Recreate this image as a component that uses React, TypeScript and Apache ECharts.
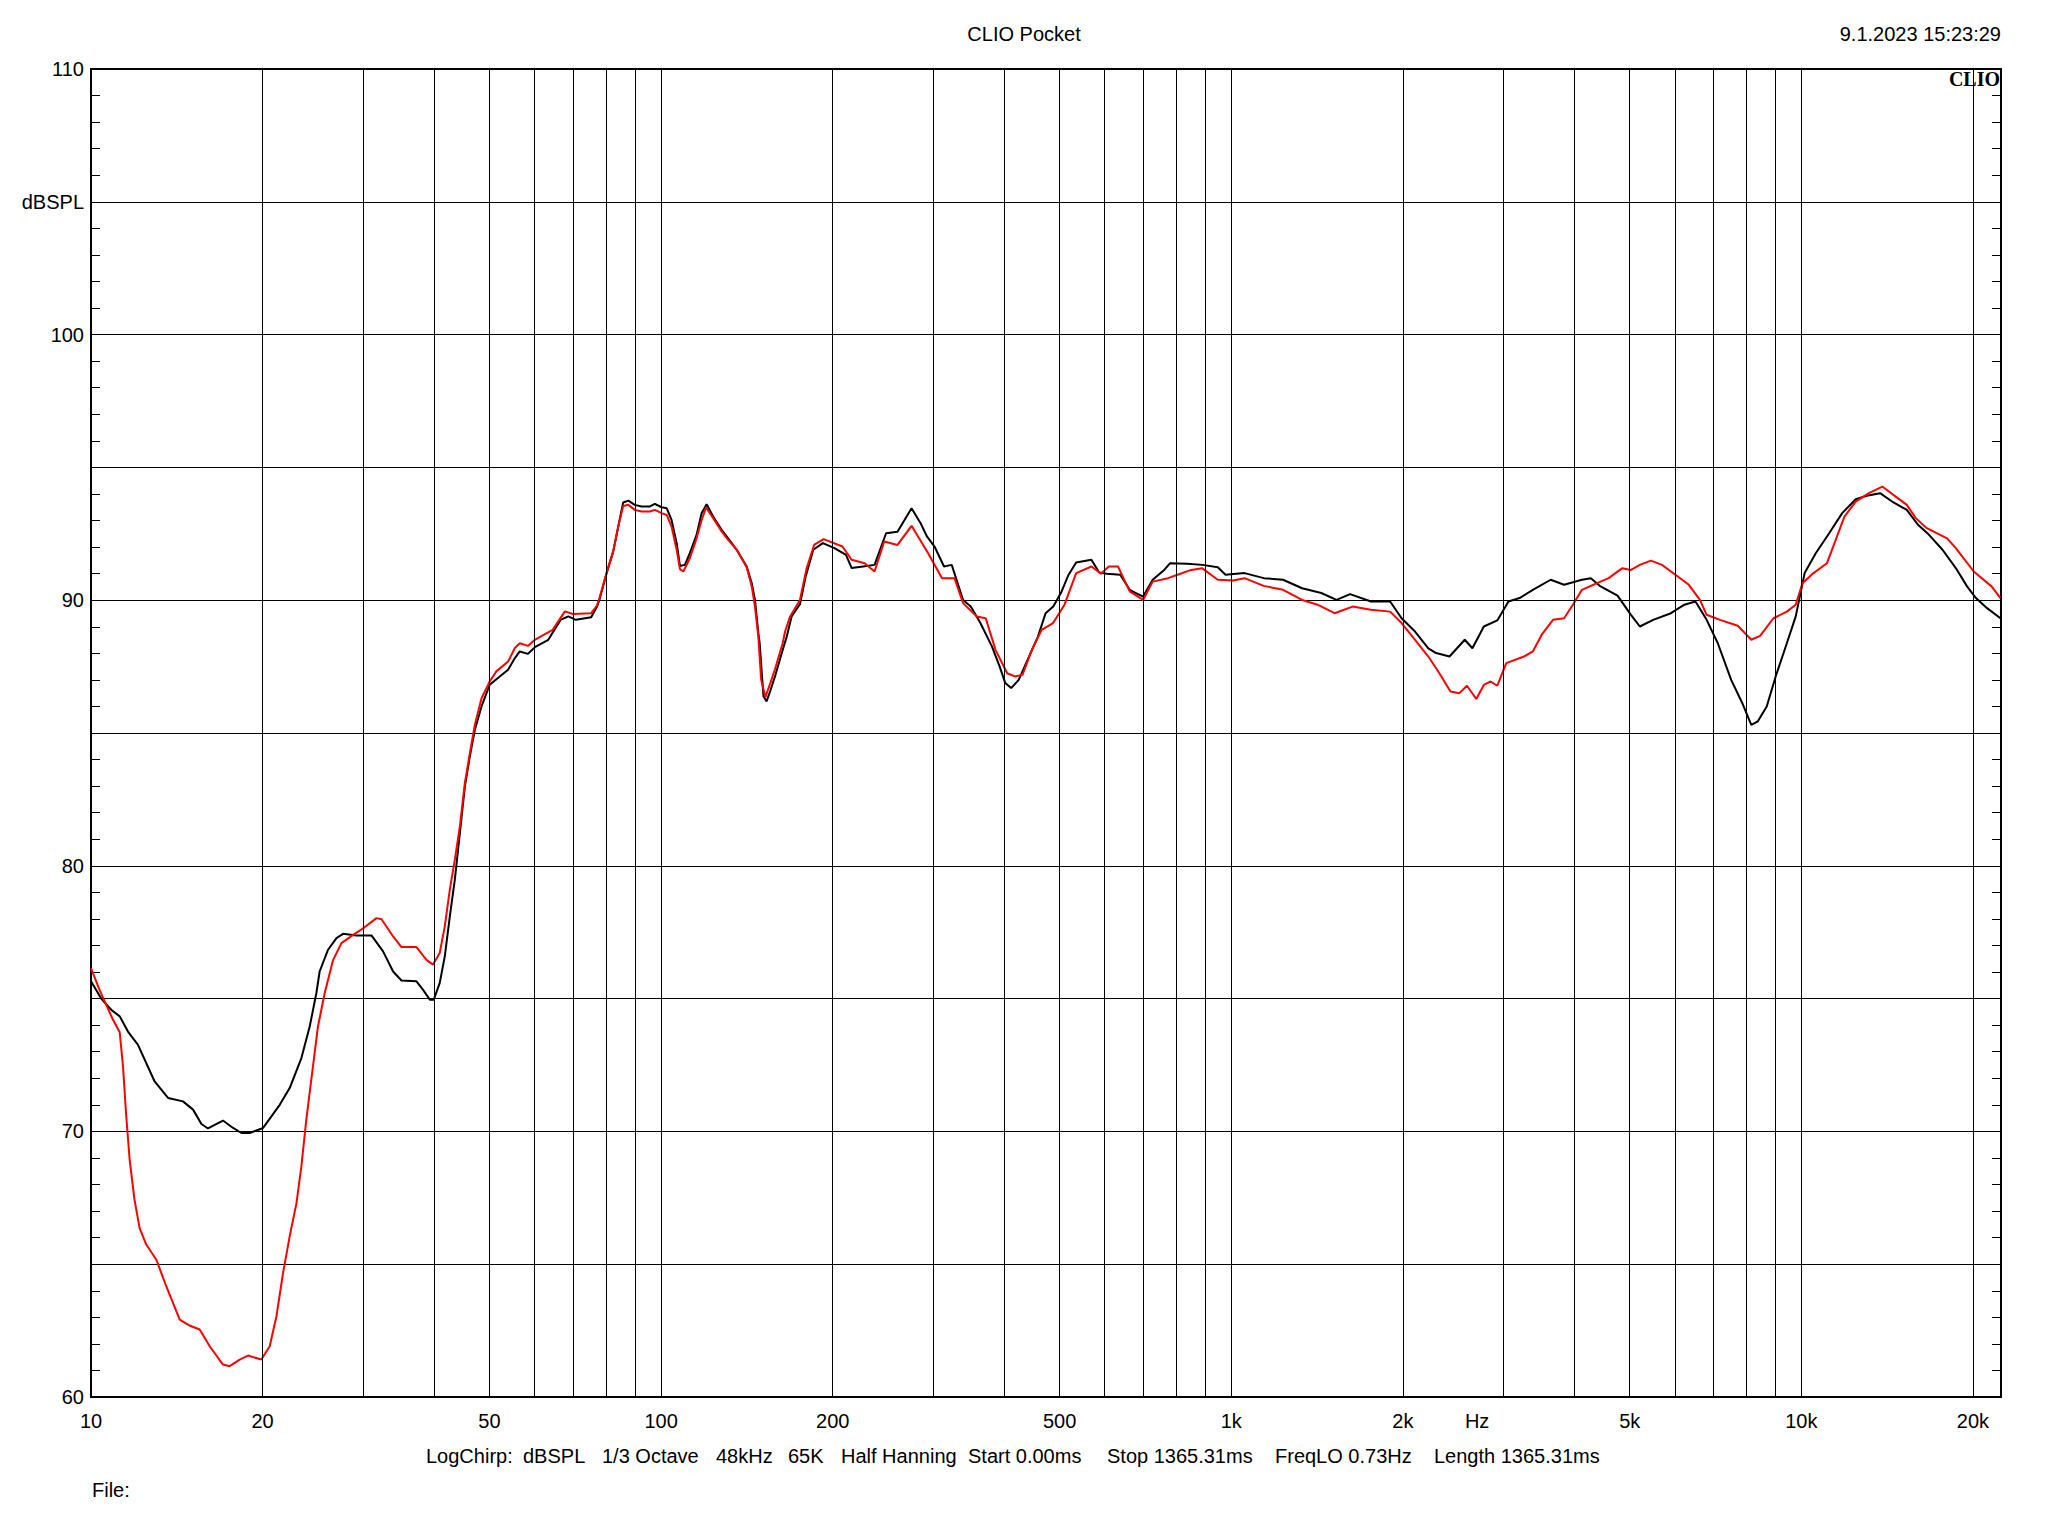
import React, { useEffect, useRef } from "react";
import * as echarts from "echarts";

// ---- Data ----
const blackFreq = [
  10, 10.42, 10.85, 11.23, 11.61, 12.09, 12.93, 13.65, 14.5, 15.1, 15.62, 16.04, 17.04, 17.75, 18.36, 18.98,
  20.04, 21.43, 22.31, 23.39, 24.19, 24.85, 25.18, 26.05, 26.95, 27.68, 29.22, 31.04, 32.53, 33.88, 35.04,
  37.23, 38.24, 39.29, 39.93, 40.9, 41.74, 42.6, 43.47, 44.36, 45.27, 46.19, 47.13, 48.42, 50.05, 52.12,
  53.9, 55.4, 56.5, 58.4, 60.05, 63.4, 66.63, 68.74, 70.87, 75.4, 77.2, 78.1, 80.2, 82.4, 84.1, 85.8, 87.6,
  89.9, 92.4, 95.6, 97.5, 100.2, 102.3, 104.3, 106.5, 107.9, 110.1, 112.3, 115.4, 117.8, 120.2, 123.4,
  127.7, 131.1, 135.7, 141.3, 144.2, 146.1, 148.1, 148.9, 151.2, 153.1, 155.5, 158.4, 163.4, 166.1, 169.4,
  175.2, 179.3, 184.9, 192.2, 201.4, 211, 215.9, 226.2, 236.8, 248.1, 259.8, 275, 285.2, 292.6, 301.7,
  313.5, 323.4, 338.6, 349.3, 363.1, 380.4, 392.4, 401.5, 411.1, 423.9, 440.7, 458.1, 472.5, 487.4, 502.6,
  518.5, 534.6, 568.6, 586.6, 605.1, 638.7, 663.7, 684.6, 700.6, 728.3, 762.9, 780.8, 837, 890.5, 947.3,
  977.2, 1055.6, 1140.5, 1232.7, 1331.6, 1438.8, 1530, 1615.9, 1758.5, 1900, 1990, 2101, 2217, 2288, 2415,
  2568, 2649, 2774, 2929, 3064, 3205, 3381, 3634, 3836, 4122, 4274, 4430, 4760, 5025, 5209, 5497, 5906,
  6236, 6522, 6822, 7137, 7533, 7876, 8170, 8390, 8696, 9016, 9432, 9777, 10135, 10600, 11190, 11795,
  12457, 13026, 13745, 14508, 15311, 16018, 16750, 17687, 18663, 19530, 20245, 21174, 22350,
];
const blackDb = [
  75.65, 75.0, 74.58, 74.33, 73.76, 73.26, 71.88, 71.26, 71.13, 70.82, 70.28, 70.11, 70.41, 70.13, 69.94, 69.94,
  70.13, 71.0, 71.63, 72.76, 73.95, 75.21, 76.02, 76.84, 77.28, 77.44, 77.38, 77.38, 76.78, 76.02, 75.68,
  75.65, 75.33, 74.96, 74.96, 75.59, 76.59, 78.1, 79.48, 81.23, 82.99, 84.12, 85.12, 86.0, 86.82, 87.13,
  87.38, 87.82, 88.07, 87.98, 88.23, 88.51, 89.26, 89.39, 89.26, 89.36, 89.76, 90.08, 91.0, 91.83, 92.77, 93.68, 93.75,
  93.59, 93.53, 93.53, 93.63, 93.5, 93.46, 93.02, 92.15, 91.29, 91.33, 91.77, 92.46, 93.28, 93.61, 93.15,
  92.65, 92.33, 91.9, 91.27, 90.64, 90.01, 88.76, 88.38, 86.38, 86.19, 86.6, 87.13, 88.13, 88.63, 89.39,
  89.85, 90.89, 91.9, 92.15, 91.96, 91.71, 91.21, 91.27, 91.33, 92.52, 92.58, 93.46, 92.9, 92.4, 92.02,
  91.27, 91.33, 90.01, 89.76, 89.14, 88.26, 87.51, 86.88, 86.69, 87.0, 87.82, 88.63, 89.51, 89.76, 90.27,
  90.96, 91.42, 91.52, 91.04, 91.0, 90.96, 90.39, 90.24, 90.14, 90.77, 91.14, 91.39, 91.37, 91.33, 91.24,
  90.96, 91.02, 90.83, 90.77, 90.45, 90.27, 90.01, 90.23, 89.95, 89.95, 89.32, 88.82, 88.19, 88.01, 87.88,
  88.51, 88.19, 89.01, 89.24, 89.95, 90.08, 90.39, 90.77, 90.58, 90.77, 90.83, 90.54, 90.17, 89.45, 89.01, 89.26, 89.51,
  89.83, 89.95, 89.26, 88.38, 87.0, 86.13, 85.31, 85.44, 86.0, 87.13, 88.38, 89.39, 91.02, 91.77, 92.52, 93.28,
  93.8, 93.93, 94.03, 93.68, 93.4, 92.84, 92.46, 91.9, 91.21, 90.52, 90.08, 89.7, 89.32,
];

const redFreq = [
  10, 10.35, 10.93, 11.23, 11.38, 11.53, 11.69, 11.92, 12.17, 12.5, 13.02, 13.55, 14.31, 14.89, 15.51, 16.15,
  17.04, 17.51, 18.23, 18.86, 19.9, 20.58, 21.15, 21.72, 22.31, 22.93, 23.39, 23.86, 24.51, 25.01, 25.7,
  26.59, 27.5, 28.83, 30.02, 31.68, 32.33, 33.88, 35.04, 37.23, 38.76, 39.8, 40.9, 41.74, 42.6, 43.47,
  44.36, 45.27, 46.19, 47.13, 48.42, 50.05, 51.4, 53.9, 55.4, 56.5, 58.4, 60.05, 64.5, 67.8, 70, 75.4,
  77.2, 78.1, 80.2, 82.4, 84.1, 85.8, 87.6, 89.9, 92.4, 95.6, 97.5, 100.2, 102.3, 104.3, 106.5, 107.9,
  109.4, 112.3, 115.4, 117.8, 119.9, 123.4, 127.7, 131.1, 135.7, 141.3, 144.2, 146.1, 148.1, 149.8, 152.4,
  155, 158.4, 163.4, 165, 168.4, 175.2, 180, 185.5, 192.8, 208, 215.9, 227.5, 236.8, 246.2, 259.8, 275,
  294, 311, 327, 338.6, 357.5, 371, 386, 404.6, 417.5, 430.4, 447, 465, 487, 510, 534.6, 568.6, 591, 610,
  633, 663.7, 700.6, 728, 775, 805, 851, 890, 947, 1008, 1055, 1140, 1233, 1332, 1417, 1518, 1632, 1758,
  1900, 1990, 2101, 2217, 2318, 2424, 2513, 2591, 2691, 2774, 2851, 2929, 3037, 3262, 3381, 3505, 3668,
  3836, 3975, 4122, 4312, 4592, 4847, 5025, 5209, 5447, 5696, 6014, 6349, 6640, 6822, 7201, 7737, 8170,
  8466, 8935, 9432, 9777, 10045, 10505, 11088, 11490, 11900, 12457, 13140, 13870, 14640, 15311, 15874,
  16601, 18017, 18663, 20066, 21560, 22350,
];
const redDb = [
  76.15, 75.33, 74.2, 73.73, 72.45, 70.57, 68.93, 67.43, 66.36, 65.74, 65.17, 64.17, 62.91, 62.69, 62.54, 61.91,
  61.22, 61.16, 61.41, 61.56, 61.41, 61.91, 63.04, 64.67, 66.05, 67.3, 68.68, 70.44, 72.45, 73.95, 75.21,
  76.46, 77.09, 77.4, 77.65, 78.03, 77.99, 77.34, 76.94, 76.94, 76.46, 76.28, 76.72, 77.72, 79.1, 80.23,
  81.48, 83.12, 84.24, 85.31, 86.31, 86.94, 87.32, 87.69, 88.2, 88.38, 88.28, 88.51, 88.88, 89.58, 89.48, 89.51,
  89.8, 90.14, 91.02, 91.83, 92.77, 93.55, 93.59, 93.4, 93.34, 93.34, 93.4, 93.28, 93.21, 92.77, 91.9, 91.17,
  91.08, 91.58, 92.33, 93.02, 93.49, 93.09, 92.59, 92.27, 91.9, 91.24, 90.52, 89.76, 88.63, 87.0, 86.35,
  86.8, 87.4, 88.38, 88.82, 89.39, 90.01, 91.2, 92.08, 92.3, 92.02, 91.52, 91.39, 91.08, 92.21, 92.08, 92.8,
  91.77, 90.83, 90.83, 89.89, 89.39, 89.32, 88.13, 87.25, 87.13, 87.19, 88.13, 88.88, 89.14, 89.83, 91.02, 91.27, 91.0, 91.27,
  91.27, 90.33, 90.01, 90.7, 90.83, 90.96, 91.14, 91.2, 90.77, 90.74, 90.83, 90.54, 90.39, 90.01, 89.83, 89.51, 89.76, 89.64,
  89.57, 89.14, 88.51, 87.88, 87.25, 86.56, 86.5, 86.78, 86.28, 86.81, 86.94, 86.78, 87.63, 87.88, 88.07, 88.7, 89.26,
  89.32, 89.83, 90.39, 90.58, 90.83, 91.2, 91.14, 91.33, 91.49, 91.33, 90.96, 90.58, 90.01, 89.45, 89.26, 89.04, 88.51,
  88.66, 89.32, 89.57, 89.83, 90.64, 91.02, 91.39, 92.27, 93.15, 93.71, 94.03, 94.28, 93.9, 93.59, 93.09,
  92.71, 92.33, 91.96, 91.08, 90.52, 90.08,
];

// Axis definitions
const freqMin = 10;
const freqMax = 22400;
const dbMin = 60;
const dbMax = 110;
const dbStep = 5;
const gridFreqs = [
  20, 30, 40, 50, 60, 70, 80, 90, 100, 200, 300, 400, 500, 600, 700, 800, 900, 1000,
  2000, 3000, 4000, 5000, 6000, 7000, 8000, 9000, 10000, 20000,
];
const xLabelFreqs = [10, 20, 50, 100, 200, 500, 1000, 2000, 5000, 10000, 20000];
const xLabelTexts = ["10", "20", "50", "100", "200", "500", "1k", "2k", "5k", "10k", "20k"];
const hzLabelFreq = 2700;
const yUnitValue = 105;
const yUnitText = "dBSPL";

const titleText = "CLIO Pocket";
const dateText = "9.1.2023 15:23:29";
const logoText = "CLIO";
const fileText = "File:";
const infoTokens = [
  "LogChirp:", "dBSPL", "1/3 Octave", "48kHz", "65K", "Half Hanning",
  "Start 0.00ms", "Stop 1365.31ms", "FreqLO 0.73Hz", "Length 1365.31ms",
];
const infoTokenX = [426, 523, 602, 716, 788, 841, 968, 1107, 1275, 1434];

const FONT = "'Liberation Sans', Arial, sans-serif";
const FS = 20;

export default function App() {
  const ref = useRef<HTMLDivElement>(null);
  useEffect(() => {
    if (!ref.current) return;
    const chart = echarts.init(ref.current, null, { renderer: "svg" });
    const tickCommon = {
      show: true,
      inside: true,
      length: 9,
      lineStyle: { color: "#000", width: 1 },
    };
    chart.setOption({
      animation: false,
      backgroundColor: "#ffffff",
      grid: {
        left: 91,
        top: 69,
        width: 1910,
        height: 1328,
        show: true,
        borderColor: "#000",
        borderWidth: 2,
        backgroundColor: "transparent",
        containLabel: false,
      },
      xAxis: {
        type: "log",
        logBase: 10,
        min: freqMin,
        max: freqMax,
        axisLabel: { show: false },
        axisTick: { show: false },
        splitLine: { show: false },
        axisLine: { show: false },
      },
      yAxis: [
        {
          type: "value",
          min: dbMin,
          max: dbMax,
          interval: dbStep,
          position: "left",
          axisLine: { show: false },
          axisTick: tickCommon,
          minorTick: { show: true, splitNumber: 5, length: 9, lineStyle: { color: "#000", width: 1 } },
          splitLine: { show: true, lineStyle: { color: "#000", width: 1 } },
          axisLabel: {
            color: "#000",
            fontFamily: FONT,
            fontSize: FS,
            margin: 7,
            formatter: (v: number) =>
              v === yUnitValue ? yUnitText : v % 10 === 0 ? String(v) : "",
          },
        },
        {
          type: "value",
          min: dbMin,
          max: dbMax,
          interval: dbStep,
          position: "right",
          axisLine: { show: false },
          axisTick: tickCommon,
          minorTick: { show: true, splitNumber: 5, length: 9, lineStyle: { color: "#000", width: 1 } },
          splitLine: { show: false },
          axisLabel: { show: false },
        },
      ],
      series: [
        {
          type: "line",
          name: "gridlines",
          data: [],
          z: 1,
          silent: true,
          markLine: {
            silent: true,
            symbol: ["none", "none"],
            label: { show: false },
            emphasis: { disabled: true },
            lineStyle: { color: "#000", width: 1, type: "solid" },
            data: gridFreqs.map((f) => ({ xAxis: f })),
          },
        },
        {
          type: "line",
          name: "black",
          data: blackFreq.map((f, i) => [f, blackDb[i]]),
          showSymbol: false,
          symbol: "none",
          lineStyle: { color: "#000000", width: 2 },
          z: 3,
        },
        {
          type: "line",
          name: "red",
          data: redFreq.map((f, i) => [f, redDb[i]]),
          showSymbol: false,
          symbol: "none",
          lineStyle: { color: "#ff0000", width: 2 },
          z: 4,
        },
      ],
    });

    const txt = (x: number, y: number, text: string, align: string, extra: any = {}) => ({
      type: "text",
      x,
      y,
      z: 10,
      silent: true,
      style: {
        text,
        fill: "#000",
        fontFamily: FONT,
        fontSize: FS,
        align,
        textAlign: align,
        verticalAlign: "middle",
        textVerticalAlign: "middle",
        ...extra,
      },
    });

    const graphics: any[] = [];
    xLabelFreqs.forEach((f, i) => {
      const px = chart.convertToPixel({ xAxisIndex: 0 }, f) as number;
      graphics.push(txt(px, 1421, xLabelTexts[i], "center"));
    });
    const hzX = chart.convertToPixel({ xAxisIndex: 0 }, hzLabelFreq) as number;
    graphics.push(txt(hzX, 1421, "Hz", "center"));
    graphics.push(txt(1024, 34, titleText, "center"));
    graphics.push(txt(2001, 34, dateText, "right"));
    graphics.push(
      txt(2000, 79, logoText, "right", {
        fontFamily: "'Liberation Serif', 'Times New Roman', serif",
        fontWeight: "bold",
        fontSize: 20,
      })
    );
    infoTokens.forEach((t, i) => graphics.push(txt(infoTokenX[i], 1456, t, "left")));
    graphics.push(txt(92, 1490, fileText, "left"));

    chart.setOption({ graphic: graphics });

    return () => chart.dispose();
  }, []);

  return (
    <div
      ref={ref}
      style={{ position: "absolute", left: 0, top: 0, width: 2048, height: 1536, background: "#fff" }}
    />
  );
}
